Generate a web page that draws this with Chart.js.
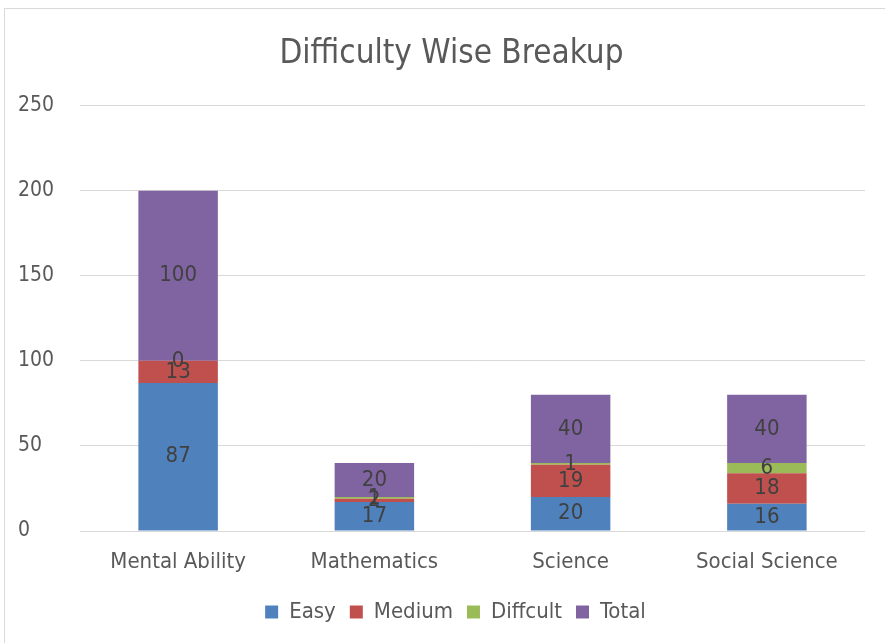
<!DOCTYPE html>
<html>
<head>
<meta charset="utf-8">
<script src="https://cdn.jsdelivr.net/npm/chart.js"></script>
<style>
  html, body { margin: 0; padding: 0; background: #fff; }
  #wrap { position: relative; width: 885px; height: 643px; }
</style>
</head>
<body>
<div id="wrap"><canvas id="myChart" width="885" height="643"></canvas></div>
<script>
// データ
const categories = ['Mental Ability', 'Mathematics', 'Science', 'Social Science'];
const easyData = [87, 17, 20, 16];
const mediumData = [13, 2, 19, 18];
const difficultData = [0, 1, 1, 6];
const totalData = [100, 20, 40, 40];
const yTicks = [0, 50, 100, 150, 200, 250];

const FONT = "'Liberation Sans Narrow', 'DejaVu Sans Condensed', 'Liberation Sans', sans-serif";
const TEXT = '#595959';

// 枠線
const borderPlugin = {
  id: 'frame',
  beforeDraw(chart) {
    const c = chart.ctx;
    c.save();
    c.fillStyle = '#fff';
    c.fillRect(0, 0, chart.width, chart.height);
    c.strokeStyle = '#d9d9d9';
    c.lineWidth = 1;
    c.strokeRect(4.5, 8.5, chart.width + 10, chart.height + 10);
    c.restore();
  },
  // タイトルと凡例を少し右へずらす
  afterLayout(chart) {
    if (chart.titleBlock) { chart.titleBlock.left += 10; chart.titleBlock.right += 10; }
    if (chart.legend) { chart.legend.left += 14; chart.legend.right += 14; }
  }
};

// 値ラベル (各セグメントの中央に描く)
const valueLabels = {
  id: 'valueLabels',
  afterDatasetsDraw(chart) {
    const c = chart.ctx;
    c.save();
    c.font = '22px ' + FONT;
    c.fillStyle = '#404040';
    c.textAlign = 'center';
    c.textBaseline = 'middle';
    chart.data.datasets.forEach((ds, i) => {
      const meta = chart.getDatasetMeta(i);
      meta.data.forEach((bar, j) => {
        const mid = (bar.y + bar.base) / 2;
        c.fillText(String(ds.data[j]), bar.x, mid);
      });
    });
    c.restore();
  }
};

const ctx = document.getElementById('myChart').getContext('2d');

new Chart(ctx, {
  type: 'bar',
  data: {
    labels: categories,
    datasets: [
      { label: 'Easy', data: easyData, backgroundColor: '#4f81bd' },
      { label: 'Medium', data: mediumData, backgroundColor: '#c0504d' },
      { label: 'Diffcult', data: difficultData, backgroundColor: '#9bbb59' },
      { label: 'Total', data: totalData, backgroundColor: '#8064a2' }
    ]
  },
  options: {
    responsive: false,
    animation: false,
    datasets: {
      bar: { categoryPercentage: 1, barPercentage: 0.405, borderWidth: 0 }
    },
    layout: {
      padding: { left: 18, right: 20, top: 0, bottom: 10 }
    },
    scales: {
      x: {
        stacked: true,
        grid: { display: false },
        border: { display: false },
        ticks: { color: TEXT, font: { family: FONT, size: 22 }, padding: 10 },
        afterFit(s) { s.height = 56; }
      },
      y: {
        stacked: true,
        min: 0,
        max: 250,
        afterBuildTicks(s) { s.ticks = yTicks.map(v => ({ value: v })); },
        grid: { color: '#d9d9d9', drawTicks: false },
        border: { display: false },
        ticks: { color: TEXT, font: { family: FONT, size: 21 }, crossAlign: 'far', padding: 8 },
        afterFit(s) { s.width = 62; }
      }
    },
    plugins: {
      tooltip: { enabled: false },
      title: {
        display: true,
        text: 'Difficulty Wise Breakup',
        color: TEXT,
        font: { family: FONT, size: 33, weight: 'normal' },
        padding: { top: 35, bottom: 31 }
      },
      legend: {
        position: 'bottom',
        labels: {
          color: TEXT,
          font: { family: FONT, size: 22 },
          boxWidth: 13,
          boxHeight: 13,
          padding: 14
        }
      }
    }
  },
  plugins: [borderPlugin, valueLabels]
});
</script>
</body>
</html>
